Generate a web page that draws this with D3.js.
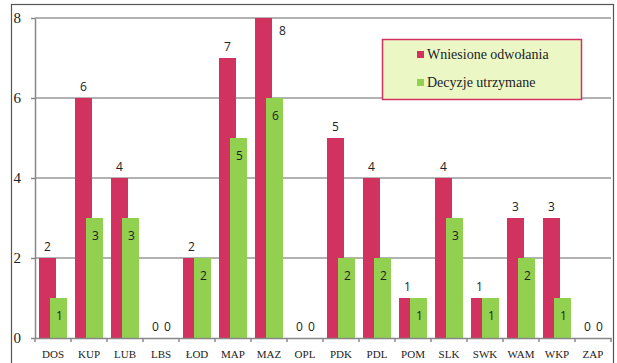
<!DOCTYPE html>
<html>
<head>
<meta charset="utf-8">
<script src="https://cdnjs.cloudflare.com/ajax/libs/d3/7.8.5/d3.min.js"></script>
<style>
  body { margin: 0; background: #fff; }
  svg { display: block; }
</style>
</head>
<body>
<div id="chart"></div>
<script>
// chart data
var categories = ['DOS', 'KUP', 'LUB', 'LBS', 'ŁOD', 'MAP', 'MAZ', 'OPL', 'PDK', 'PDL', 'POM', 'SLK', 'SWK', 'WAM', 'WKP', 'ZAP'];
var appeals = [2, 6, 4, 0, 2, 7, 8, 0, 5, 4, 1, 4, 1, 3, 3, 0];
var upheld = [1, 3, 3, 0, 2, 5, 6, 0, 2, 2, 1, 3, 1, 2, 1, 0];
var yTicks = [0, 2, 4, 6, 8];
var seriesNames = ['Wniesione odwołania', 'Decyzje utrzymane'];

var W = 617, H = 363;
var red = '#d2325f', green = '#92d050';
var serif = '"Liberation Serif", "DejaVu Serif", serif';
var sans = '"Open Sans", "Liberation Sans", sans-serif';

var svg = d3.select('#chart').append('svg')
  .attr('width', W)
  .attr('height', H);

// outer frame
svg.append('rect')
  .attr('x', 11.5).attr('y', 4.5)
  .attr('width', 602).attr('height', 370)
  .attr('fill', 'none')
  .attr('stroke', '#555')
  .attr('stroke-width', 1.2);

var plot = {left: 35, right: 611, top: 18, bottom: 338};

var x = d3.scaleBand()
  .domain(categories)
  .range([plot.left, plot.right])
  .padding(0);

var y = d3.scaleLinear()
  .domain([0, 8])
  .range([plot.bottom, plot.top]);

// gridlines
svg.append('g')
  .selectAll('line')
  .data(yTicks.filter(function (d) { return d > 0; }))
  .join('line')
  .attr('x1', plot.left).attr('x2', plot.right)
  .attr('y1', function (d) { return y(d); })
  .attr('y2', function (d) { return y(d); })
  .attr('stroke', '#999')
  .attr('stroke-width', 1.5);

// y axis
var yAxis = svg.append('g')
  .attr('transform', 'translate(' + plot.left + ',0)')
  .call(d3.axisLeft(y).tickValues(yTicks).tickSize(4).tickSizeOuter(0).tickPadding(10));
yAxis.select('.domain').attr('stroke', '#888').attr('stroke-width', 1.5);
yAxis.selectAll('.tick line').attr('stroke', '#888').attr('stroke-width', 1.5);
yAxis.selectAll('.tick text')
  .attr('font-family', serif)
  .attr('font-size', 15)
  .attr('fill', '#222');

// bars
var bw = 17;
var redOff = 4, greenOff = 15;

svg.append('g')
  .selectAll('rect')
  .data(appeals)
  .join('rect')
  .attr('x', function (d, i) { return x(categories[i]) + redOff; })
  .attr('y', function (d) { return y(d); })
  .attr('width', bw)
  .attr('height', function (d) { return plot.bottom - y(d); })
  .attr('fill', red);

svg.append('g')
  .selectAll('rect')
  .data(upheld)
  .join('rect')
  .attr('x', function (d, i) { return x(categories[i]) + greenOff; })
  .attr('y', function (d) { return y(d); })
  .attr('width', bw)
  .attr('height', function (d) { return plot.bottom - y(d); })
  .attr('fill', green);

// x axis
var xAxis = svg.append('g')
  .attr('transform', 'translate(0,' + plot.bottom + ')')
  .call(d3.axisBottom(x).tickSize(0).tickPadding(12));
xAxis.select('.domain').attr('stroke', '#888').attr('stroke-width', 1.5);
xAxis.selectAll('.tick text')
  .attr('font-family', serif)
  .attr('font-size', 11)
  .attr('fill', '#222');

// category separators on x axis
svg.append('g')
  .selectAll('line')
  .data(categories.concat(['end']))
  .join('line')
  .attr('x1', function (d, i) { return plot.left + i * x.bandwidth(); })
  .attr('x2', function (d, i) { return plot.left + i * x.bandwidth(); })
  .attr('y1', plot.bottom)
  .attr('y2', plot.bottom + 4)
  .attr('stroke', '#888')
  .attr('stroke-width', 1.5);

// data labels (the max bar gets its label beside the top, like Excel does)
var ymax = y.domain()[1];
svg.append('g')
  .selectAll('text')
  .data(appeals)
  .join('text')
  .attr('x', function (d, i) {
    return d >= ymax ? x(categories[i]) + redOff + bw + 7 : x(categories[i]) + redOff + bw / 2;
  })
  .attr('y', function (d) { return d >= ymax ? y(d) + 17 : y(d) - 7; })
  .attr('text-anchor', function (d) { return d >= ymax ? 'start' : 'middle'; })
  .attr('font-family', sans)
  .attr('font-size', 12)
  .attr('fill', '#222')
  .text(function (d) { return d; });

svg.append('g')
  .selectAll('text')
  .data(upheld)
  .join('text')
  .attr('x', function (d, i) { return x(categories[i]) + greenOff + bw / 2 + 1; })
  .attr('y', function (d) { return d > 0 ? y(d) + 22 : y(d) - 7; })
  .attr('text-anchor', 'middle')
  .attr('font-family', sans)
  .attr('font-size', 12)
  .attr('fill', '#222')
  .text(function (d) { return d; });

// legend
var legend = svg.append('g');
legend.append('rect')
  .attr('x', 382.5).attr('y', 39.5)
  .attr('width', 199).attr('height', 60)
  .attr('fill', '#ebf8c6')
  .attr('stroke', red)
  .attr('stroke-width', 1.5);

var legendColors = [red, green];
var items = legend.selectAll('g.item')
  .data(seriesNames)
  .join('g')
  .attr('class', 'item')
  .attr('transform', function (d, i) { return 'translate(417,' + (51 + i * 28) + ')'; });
items.append('rect')
  .attr('width', 7).attr('height', 7)
  .attr('fill', function (d, i) { return legendColors[i]; });
items.append('text')
  .attr('x', 10).attr('y', 8)
  .attr('font-family', serif)
  .attr('font-size', 14)
  .attr('fill', '#222')
  .text(function (d) { return d; });
</script>
</body>
</html>
